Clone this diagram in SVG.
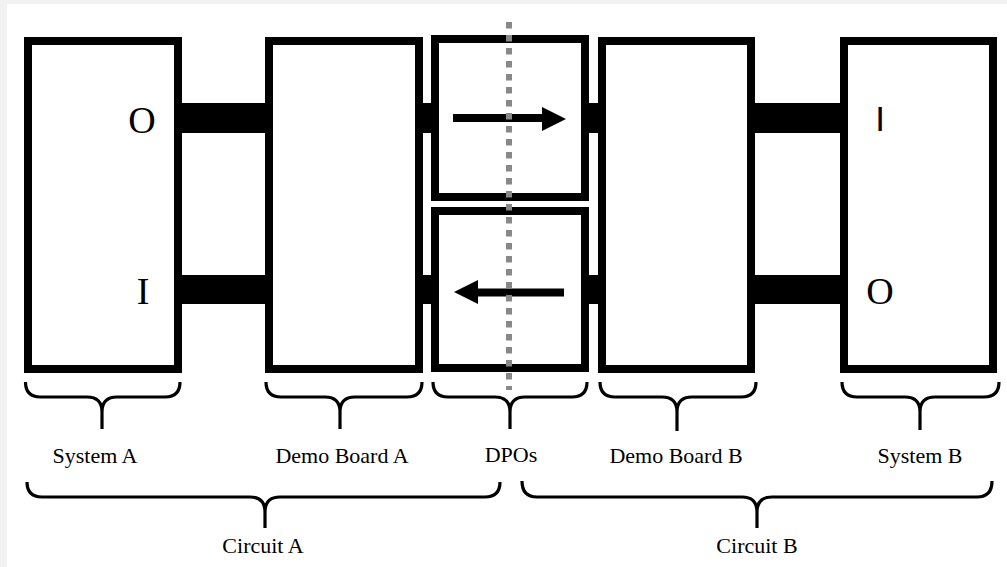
<svg xmlns="http://www.w3.org/2000/svg" width="1007" height="567" viewBox="0 0 1007 567">
<style>
.box{fill:#fff;stroke:#000;stroke-width:8}
.bar{fill:#000}
.brace{fill:none;stroke:#000;stroke-width:3.2;stroke-linecap:butt;stroke-linejoin:round}
.lbl{font-family:"Liberation Serif","Times New Roman",serif;font-size:22px;fill:#000;text-anchor:middle}
.io{font-family:"Liberation Serif","Times New Roman",serif;font-size:38px;fill:#000;text-anchor:middle}
.ios{font-family:"Liberation Sans",Arial,sans-serif;font-size:35px;fill:#000;text-anchor:middle}
.divider{stroke:#888;stroke-width:6;stroke-dasharray:6.5 6.5;fill:none}
.arrow{stroke:#000;stroke-width:8;fill:none}
</style>
<rect x="0" y="0" width="1007" height="567" fill="#f2f2f2"/>
<rect x="7" y="4" width="1000" height="563" fill="#fff"/>
<g id="connectors">
<rect class="bar" x="180" y="103" width="88" height="30"/>
<rect class="bar" x="180" y="275" width="88" height="29"/>
<rect class="bar" x="420" y="103" width="14" height="30"/>
<rect class="bar" x="420" y="275" width="14" height="29"/>
<rect class="bar" x="586" y="103" width="15" height="30"/>
<rect class="bar" x="586" y="275" width="15" height="29"/>
<rect class="bar" x="752" y="103" width="91" height="30"/>
<rect class="bar" x="752" y="275" width="91" height="29"/>
</g>
<g id="system-a">
<rect class="box" x="28" y="41" width="150" height="328"/>
<text class="io" x="142" y="133">O</text>
<text class="io" x="143" y="304">I</text>
</g>
<g id="demo-board-a">
<rect class="box" x="269" y="41" width="150" height="328"/>
</g>
<g id="dpo-top">
<rect class="box" x="435" y="39" width="150" height="158"/>
<path class="arrow" d="M453 118 H544"/>
<polygon points="542,107 566,119 542,131" fill="#000"/>
</g>
<g id="dpo-bottom">
<rect class="box" x="435" y="211" width="150" height="157"/>
<path class="arrow" d="M564 292.500 H476"/>
<polygon points="478,280 454,292 478,304" fill="#000"/>
</g>
<g id="demo-board-b">
<rect class="box" x="602" y="41" width="149" height="328"/>
</g>
<g id="system-b">
<rect class="box" x="844" y="41" width="149" height="328"/>
<text class="ios" x="880" y="131">I</text>
<text class="io" x="880" y="304">O</text>
</g>
<g id="divider">
<line class="divider" x1="509" y1="22" x2="509" y2="390"/>
</g>
<g id="braces">
<path class="brace" d="M25.500 382 Q25.500 397 40.500 397 H87 Q102 397 102 412 Q102 397 117 397 H165 Q180 397 180 382 M102 412 V429"/>
<path class="brace" d="M266 382 Q266 397 281 397 H325 Q340 397 340 412 Q340 397 355 397 H407 Q422 397 422 382 M340 412 V429"/>
<path class="brace" d="M433 382 Q433 397 448 397 H495 Q510 397 510 412 Q510 397 525 397 H572 Q587 397 587 382 M510 412 V429"/>
<path class="brace" d="M600 382 Q600 397 615 397 H662 Q677 397 677 412 Q677 397 692 397 H741 Q756 397 756 382 M677 412 V431"/>
<path class="brace" d="M842 382 Q842 397 857 397 H905 Q920 397 920 412 Q920 397 935 397 H984 Q999 397 999 382 M920 412 V430"/>
<path class="brace" d="M27 482 Q27 497 42 497 H250 Q265 497 265 512 Q265 497 280 497 H485 Q500 497 500 482 M265 512 V528"/>
<path class="brace" d="M522 481 Q522 497 537 497 H742 Q757 497 757 512 Q757 497 772 497 H977 Q992 497 992 481 M757 512 V528"/>
</g>
<g id="labels">
<text class="lbl" x="95" y="463">System A</text>
<text class="lbl" x="342" y="463">Demo Board A</text>
<text class="lbl" x="511" y="462">DPOs</text>
<text class="lbl" x="676" y="463">Demo Board B</text>
<text class="lbl" x="920" y="463">System B</text>
<text class="lbl" x="263" y="553">Circuit A</text>
<text class="lbl" x="757" y="553">Circuit B</text>
</g>
</svg>
